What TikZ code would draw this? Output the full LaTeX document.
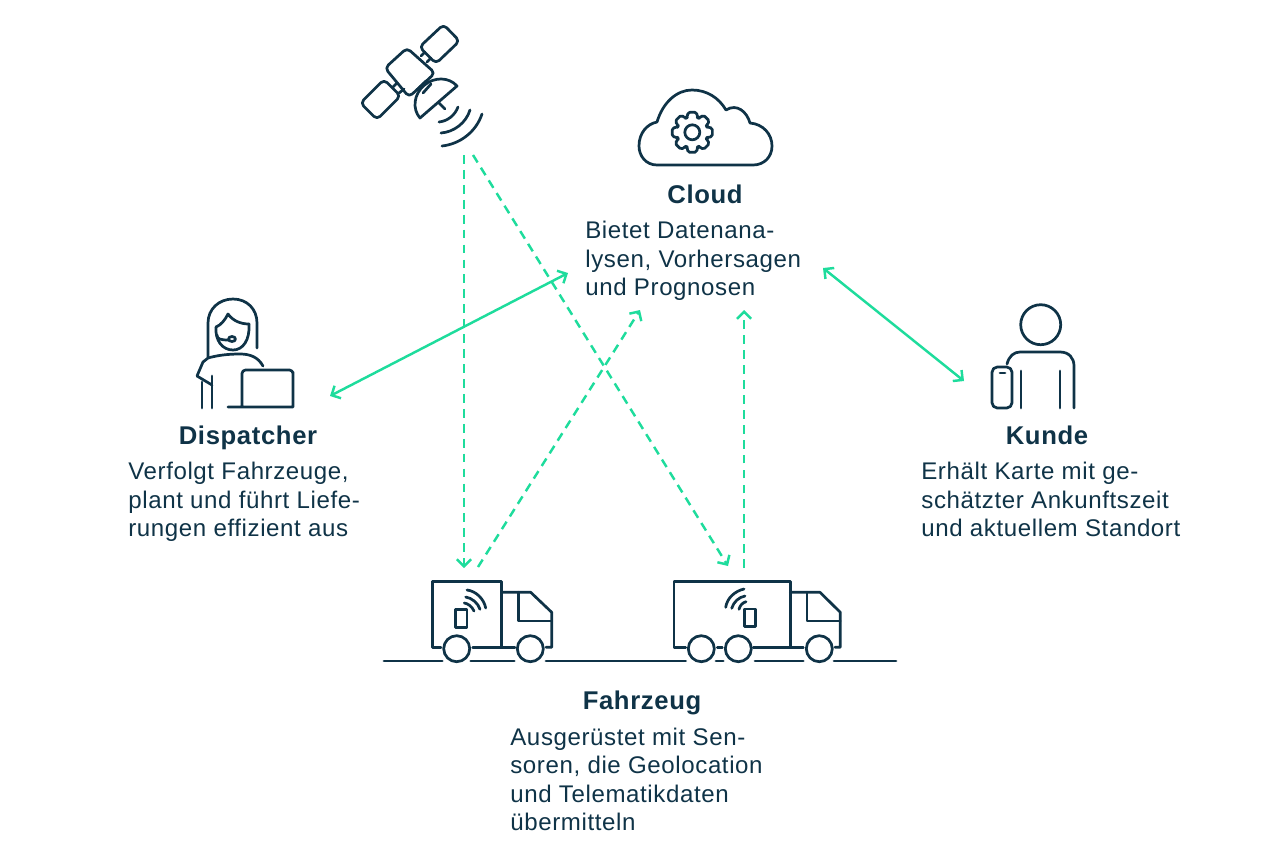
\documentclass[tikz,border=0pt]{standalone}
\usepackage{fontspec}
\setmainfont[LetterSpace=2.5]{Liberation Sans}
\usetikzlibrary{calc, arrows.meta}
\definecolor{ink}{HTML}{0F3347}
\definecolor{mint}{HTML}{1EDC9C}
\tikzset{
	icon/.style={draw=ink, line width=1.55pt, line cap=round, line join=round},
	link/.style={draw=mint, line width=1.4pt, -{Straight Barb[length=4pt,width=8pt]}},
	linkdash/.style={link, dash pattern=on 5pt off 3.5pt},
	linkboth/.style={link, {Straight Barb[length=4pt,width=8pt]}-{Straight Barb[length=4pt,width=8pt]}},
	heading/.style={font=\fontsize{14.6}{16}\selectfont\bfseries, text=ink, inner sep=0pt, anchor=base},
	body/.style={font=\fontsize{13.7}{16.15}\selectfont, text=ink, inner sep=0pt, align=left, anchor=north west},
}
\begin{document}
\begin{tikzpicture}[x=0.02cm, y=-0.02cm]
	\useasboundingbox (0,0) rectangle (1280,856);
	
	% satellit
	\draw[icon, rounded corners=2.5pt] (443.5,24.5) -- (459.5,41) -- (436,63.5) -- (419.5,47) -- cycle;
	\draw[icon, rounded corners=2.5pt] (384,79.5) -- (400.5,96) -- (377,119.5) -- (360.5,103) -- cycle;
	\draw[icon, rounded corners=2.5pt] (407,48) -- (435,73) -- (409,97) -- (385,68) -- cycle;
	\draw[icon] (425,52) -- (421,56) (431,58) -- (427,62);
	\draw[icon] (393,87) -- (397,83) (399,93) -- (404,89);
	\draw[icon] (417,90) -- (426,81) (423,93) -- (431,84);
	\draw[icon] (457,86) .. controls (449,76.9) and (434.2,76.6) .. (424,85.4) .. controls (413.8,94.2) and (412,108.9) .. (420,118) -- cycle;
	\draw[icon] (439,103) -- (445,109);
	\draw[icon] (439,122) .. controls (448,121) and (455,115) .. (458,107);
	\draw[icon] (441,133) .. controls (454,132) and (466,123) .. (470,110);
	\draw[icon] (442,146) .. controls (460,144) and (476,132) .. (482,114);
	
	% wolke
	\draw[icon] (657,165) .. controls (646,165) and (639,156) .. (639,146) .. controls (639,133) and (647,124) .. (657,122)
		.. controls (663,102) and (677,90) .. (692,90) .. controls (707,90) and (719,98) .. (726,110)
		.. controls (737,103) and (747,112) .. (750,123) .. controls (763,124) and (772,134) .. (772,146)
		.. controls (772,157) and (764,165) .. (753,165) -- cycle;
	\draw[icon] (692.3,132.3) circle [radius=7.5];
	\draw[icon, rounded corners=1pt] (692.3,132.3) ++(78:20.5)
		\foreach \a in {0,45,...,315}{
			-- ($(692.3,132.3)+(\a+78:20.5)$) -- ($(692.3,132.3)+(\a+102:20.5)$)
			-- ($(692.3,132.3)+(\a+110:15.5)$) -- ($(692.3,132.3)+(\a+115:15.5)$)
		} -- cycle;
	
	% dispatcher
	\draw[icon] (208,357) -- (208,323) .. controls (208,309) and (219,299) .. (233,299) .. controls (247,299) and (257,309) .. (257,323) -- (257,348);
	\draw[icon] (216,327) .. controls (221,325) and (225,320) .. (228,314) .. controls (233,321) and (241,324) .. (249,324);
	\draw[icon] (216,327) .. controls (215,340) and (222,350) .. (233,350) .. controls (243,350) and (250,340) .. (249,324);
	\draw[icon] (217,335) .. controls (217,339) and (220,340) .. (229,340);
	\draw[icon] (232,339) ellipse [x radius=3.5, y radius=2.5];
	\draw[icon] (263,366) .. controls (258,357) and (250,354) .. (240,354) .. controls (225,354) and (215,356) .. (208,358) -- (203,362) -- (197,376) -- (212,385);
	\draw[icon] (202,382) -- (202,408);
	\draw[icon] (212,376) -- (212,408);
	\draw[icon] (228,407) -- (293,407) -- (293,372) [rounded corners=2pt] -- (293,370) -- (242,370) -- (242,407);
	
	% kunde
	\draw[icon] (1040.7,324.7) circle [radius=20];
	\draw[icon] (1007,364) .. controls (1009,356) and (1014,352) .. (1020,352) -- (1060,352) .. controls (1069,352) and (1074,358) .. (1074,366) -- (1074,408);
	\draw[icon] (1021,371) -- (1021,408);
	\draw[icon] (1060,371) -- (1060,408);
	\draw[icon, rounded corners=3pt] (992,367) rectangle (1012,408);
	\draw[icon] (1000,373) -- (1005,373);
	
	% lkw klein
	\draw[icon] (441,647.3) -- (432.7,647.3) -- (432.7,581.7) -- (501.7,581.7) -- (501.7,647.3);
	\draw[icon] (472.7,647.3) -- (515,647.3);
	\draw[icon] (501.7,592.3) -- (530.7,592.3) -- (551.7,612.3) -- (551.7,647.3) -- (546,647.3);
	\draw[icon] (518.3,592.3) -- (518.3,621) -- (551.7,621);
	\draw[icon] (456.7,648.7) circle [radius=13];
	\draw[icon] (530.3,648.7) circle [radius=13];
	\draw[icon] (455.3,609.3) rectangle (467,627.3);
	\draw[icon] (467,590) .. controls (476,591) and (484,599) .. (485.7,608);
	\draw[icon] (465.7,597) .. controls (472,598) and (478,603) .. (480,609.3);
	\draw[icon] (464.3,603) .. controls (468,603.5) and (472,606.5) .. (474,611);
	
	% lkw gross
	\draw[icon] (685.7,647.3) -- (674,647.3) -- (674,581.7) -- (790.3,581.7) -- (790.3,647.3);
	\draw[icon] (717.3,647.3) -- (722.3,647.3);
	\draw[icon] (753.3,647.3) -- (803.3,647.3);
	\draw[icon] (790.3,592.3) -- (820,592.3) -- (840.3,612.3) -- (840.3,647.3) -- (835,647.3);
	\draw[icon] (807,592.3) -- (807,621) -- (840.3,621);
	\foreach \wx in {701.3,738.3,819.3}
		\draw[icon] (\wx,648.7) circle [radius=13];
	\draw[icon] (744.3,609) rectangle (755.7,626.7);
	\draw[icon] (744,589) .. controls (735,591) and (727,598) .. (725.7,607.3);
	\draw[icon] (745,596) .. controls (739,597) and (733.5,602) .. (731.7,608.3);
	\draw[icon] (746,601.7) .. controls (743,602.5) and (740,605) .. (739,609.3);
	
	% strasse
	\foreach \xa/\xb in {384/442.3,470.7/514.3,546/685.7,716/723.3,755/803.3,834/896}
		\draw[icon] (\xa,661) -- (\xb,661);
	
	% texte
	\node[heading] (cloudtitle) at (705,203.5) {Cloud};
	\node[body] (cloudtext) at (585,221) {Bietet Datenana-\\lysen, Vorhersagen\\und Prognosen};
	\node[heading] (disptitle) at (248,444.5) {Dispatcher};
	\node[body] (disptext) at (128,462) {Verfolgt Fahrzeuge,\\plant und führt Liefe-\\rungen effizient aus};
	\node[heading] (kundetitle) at (1047,444.5) {Kunde};
	\node[body] (kundetext) at (921,462) {Erhält Karte mit ge-\\schätzter Ankunftszeit\\und aktuellem Standort};
	\node[heading] (fzgtitle) at (642,709) {Fahrzeug};
	\node[body] (fzgtext) at (510,727.5) {Ausgerüstet mit Sen-\\soren, die Geolocation\\und Telematikdaten\\übermitteln};
	
	% verbindungen
	\coordinate (satleft) at (464,155);
	\coordinate (satright) at (473,155);
	\coordinate (truckasat) at (464,568);
	\coordinate (truckacloud) at (478,567);
	\coordinate (truckbsat) at (728,566);
	\coordinate (truckbcloud) at (744,568);
	\coordinate (cloudatruck) at (640,310);
	\coordinate (cloudbtruck) at (744,310);
	\coordinate (clouddisp) at (568,273);
	\coordinate (dispcloud) at (330,396);
	\coordinate (cloudkunde) at (823,268);
	\coordinate (kundecloud) at (964,381);
	\draw[linkdash] (satleft) -- (truckasat);
	\draw[linkdash] (satright) -- (truckbsat);
	\draw[linkdash] (truckacloud) -- (cloudatruck);
	\draw[linkdash] (truckbcloud) -- (cloudbtruck);
	\draw[linkboth] (dispcloud) -- (clouddisp);
	\draw[linkboth] (cloudkunde) -- (kundecloud);
\end{tikzpicture}
\end{document}
